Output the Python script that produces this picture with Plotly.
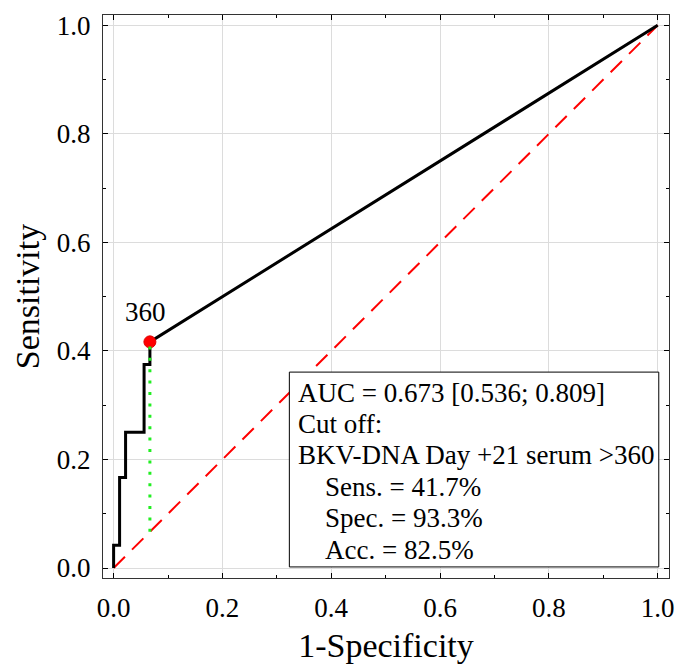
import plotly.graph_objects as go

# ROC staircase (1-specificity, sensitivity)
fpr = [0.0, 0.0, 0.011, 0.011, 0.022, 0.022, 0.056, 0.056, 0.0667, 0.0667, 1.0]
tpr = [0.0, 0.042, 0.042, 0.167, 0.167, 0.25, 0.25, 0.375, 0.375, 0.4167, 1.0]

cut_x = 0.0667
cut_y = 0.4167
cut_label = "360"

diag_x = [0.0, 1.0]
diag_y = [0.0, 1.0]

box_lines = [
    "AUC = 0.673 [0.536; 0.809]",
    "Cut off:",
    "BKV-DNA Day +21 serum >360",
    "Sens. = 41.7%",
    "Spec. = 93.3%",
    "Acc. = 82.5%",
]
box_indent = [False, False, False, True, True, True]

tick_vals = [0.0, 0.2, 0.4, 0.6, 0.8, 1.0]
tick_text = ["0.0", "0.2", "0.4", "0.6", "0.8", "1.0"]

FONT = "Liberation Serif"

fig = go.Figure()

fig.add_trace(go.Scatter(x=diag_x, y=diag_y, mode="lines",
                         line=dict(color="#ff0000", width=2, dash="16px,10px"),
                         hoverinfo="skip", showlegend=False))
fig.add_trace(go.Scatter(x=fpr, y=tpr, mode="lines",
                         line=dict(color="black", width=3),
                         showlegend=False))
fig.add_trace(go.Scatter(x=[cut_x], y=[cut_y], mode="markers",
                         marker=dict(color="#ff0000", size=12,
                                     line=dict(color="#e00000", width=1)),
                         showlegend=False))
fig.add_trace(go.Scatter(x=[cut_x, cut_x], y=[cut_x, cut_y], mode="lines",
                         line=dict(color="#22ee22", width=3, dash="3px,8.4px"),
                         showlegend=False))

# legend-like info box
fig.add_shape(type="rect", xref="x", yref="y", x0=0.323, x1=1.002, y0=0.002, y1=0.361,
              fillcolor="white", line=dict(color="black", width=1), layer="above")

px_per_unit = 542.6
y0_px = 568.3
for i, (txt, ind) in enumerate(zip(box_lines, box_indent)):
    ypix = 393 + i * 31.4
    yv = (y0_px - ypix) / px_per_unit
    xv = 0.3345
    fig.add_annotation(x=xv, y=yv, xref="x", yref="y", text=txt, showarrow=False,
                       xanchor="left", yanchor="middle", xshift=(27 if ind else 0),
                       font=dict(family=FONT, size=27, color="black"))

fig.add_annotation(x=cut_x, y=cut_y, xref="x", yref="y", text=cut_label, showarrow=False,
                   xanchor="center", yanchor="middle", xshift=-4, yshift=30,
                   font=dict(family=FONT, size=27, color="black"))

axis_common = dict(
    showgrid=True, gridcolor="#dcdcdc", gridwidth=1,
    zeroline=False, showline=True, linecolor="#333333", linewidth=1, mirror="allticks",
    ticks="inside", ticklen=5, tickwidth=1, tickcolor="black",
    tickvals=tick_vals, ticktext=tick_text,
    tickfont=dict(family=FONT, size=27, color="black"),
    minor=dict(ticks="inside", ticklen=3, tickcolor="black", dtick=0.1, showgrid=False),
    automargin=False,
)

fig.update_xaxes(range=[-0.0195, 1.0208],
                 title=dict(text="1-Specificity", font=dict(family=FONT, size=34, color="black"),
                            standoff=10),
                 ticklabelstandoff=6,
                 **axis_common)
fig.update_yaxes(range=[-0.0184, 1.019],
                 title=dict(text="Sensitivity", font=dict(family=FONT, size=34, color="black"),
                            standoff=6),
                 ticklabelstandoff=6,
                 **axis_common)

fig.update_layout(
    width=675, height=664,
    margin=dict(l=103, r=6, t=15, b=86),
    plot_bgcolor="white", paper_bgcolor="white",
    showlegend=False,
    font=dict(family=FONT, color="black"),
)

fig.write_html("out.html", config={"displayModeBar": False},
               post_script="document.body.style.margin='0';document.body.style.padding='0';")
